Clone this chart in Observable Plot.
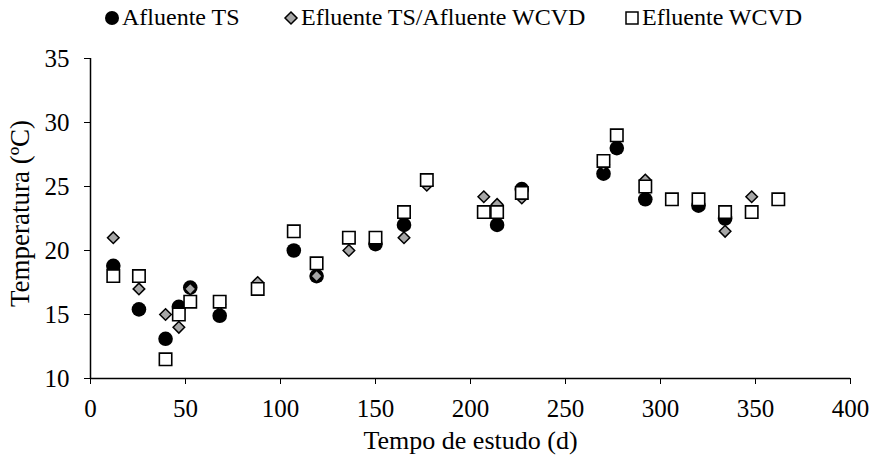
<!DOCTYPE html>
<html>
<head>
<meta charset="utf-8">
<script src="https://cdn.jsdelivr.net/npm/d3@7"></script>
<script src="https://cdn.jsdelivr.net/npm/@observablehq/plot@0.6"></script>
<style>
  html, body { margin: 0; padding: 0; background: #fff; }
  body { width: 877px; height: 461px; overflow: hidden; font-family: "Liberation Serif", serif; }
  #legend { height: 40px; position: relative; font-size: 24px; color: #000; }
  .item { position: absolute; top: 4px; display: flex; align-items: center; white-space: nowrap; }
  .item svg { margin-right: 1px; }
</style>
</head>
<body>
<div id="legend"></div>
<div id="chart"></div>
<script>
// ---- data ----
const seriesNames = ["Afluente TS", "Efluente TS/Afluente WCVD", "Efluente WCVD"];

const afluenteTS_days = [12, 25.5, 39.5, 46.5, 52.5, 68, 107, 119, 150, 165, 214, 227, 270, 277, 292, 320, 334];
const afluenteTS_temp = [18.8, 15.4, 13.1, 15.6, 17.1, 14.9, 20.0, 18.0, 20.5, 22.0, 22.0, 24.8, 26.0, 28.0, 24.0, 23.5, 22.5];

const efluenteTS_days = [12, 25.5, 39.5, 46.5, 52.5, 68, 88, 119, 136, 165, 177, 207, 214, 227, 270, 292, 334, 348];
const efluenteTS_temp = [21.0, 17.0, 15.0, 14.0, 17.0, 15.8, 17.5, 18.0, 20.0, 21.0, 25.1, 24.2, 23.6, 24.1, 26.7, 25.5, 21.5, 24.2];

const efluenteWCVD_days = [12, 25.5, 39.5, 46.5, 52.5, 68, 88, 107, 119, 136, 150, 165, 177, 207, 214, 227, 270, 277, 292, 306, 320, 334, 348, 362];
const efluenteWCVD_temp = [18.0, 18.0, 11.5, 15.0, 16.0, 16.0, 17.0, 21.5, 19.0, 21.0, 21.0, 23.0, 25.5, 23.0, 23.0, 24.5, 27.0, 29.0, 25.0, 24.0, 24.0, 23.0, 23.0, 24.0];

const xTicks = [0, 50, 100, 150, 200, 250, 300, 350, 400];
const yTicks = [10, 15, 20, 25, 30, 35];
const xTitle = "Tempo de estudo (d)";
const yTitle = "Temperatura (ºC)";

// ---- build tables ----
const toRows = (days, temps) => days.map((d, i) => ({day: d, temp: temps[i]}));
const s1 = toRows(afluenteTS_days, afluenteTS_temp);
const s2 = toRows(efluenteTS_days, efluenteTS_temp);
const s3 = toRows(efluenteWCVD_days, efluenteWCVD_temp);

const grey = "#a6a6a6";

const chart = Plot.plot({
  width: 877,
  height: 421,
  marginLeft: 90,
  marginRight: 27,
  marginTop: 18,
  marginBottom: 83,
  style: {fontFamily: "Liberation Serif", fontSize: "26px", color: "#000", background: "#fff", overflow: "visible"},
  x: {domain: [0, 400]},
  y: {domain: [10, 35]},
  marks: [
    Plot.axisX({ticks: xTicks, tickSize: 6, tickPadding: 15, label: null, fontSize: 25, tickFormat: d => String(d)}),
    Plot.axisY({ticks: yTicks, tickSize: 6, tickPadding: 15, label: null, fontSize: 25, tickFormat: d => String(d)}),
    Plot.ruleY([10], {stroke: "#000", strokeWidth: 1.5}),
    Plot.ruleX([0], {stroke: "#000", strokeWidth: 1.5}),
    Plot.dot(s1, {x: "day", y: "temp", symbol: "circle", r: 7.3, fill: "#000", stroke: "none"}),
    Plot.dot(s2, {x: "day", y: "temp", symbol: "diamond2", r: 5.2, fill: grey, stroke: "#000", strokeWidth: 1.5}),
    Plot.dot(s3, {x: "day", y: "temp", symbol: "square", r: 7, fill: "#fff", stroke: "#000", strokeWidth: 1.6}),
    Plot.text([xTitle], {frameAnchor: "bottom", lineAnchor: "middle", textAnchor: "middle", dy: 62, fontSize: 26}),
    Plot.text([yTitle], {frameAnchor: "left", lineAnchor: "middle", textAnchor: "middle", rotate: -90, dx: -70, dy: -5, fontSize: 27})
  ]
});
document.getElementById("chart").appendChild(chart);

// ---- legend ----
const legend = document.getElementById("legend");
const legendItems = [
  {name: seriesNames[0], left: 103, svg: '<svg width="18" height="18"><circle cx="9" cy="9" r="7" fill="#000"/></svg>'},
  {name: seriesNames[1], left: 282, svg: '<svg width="18" height="18"><path d="M9 3 L15 9 L9 15 L3 9 Z" fill="' + grey + '" stroke="#000" stroke-width="1.5"/></svg>'},
  {name: seriesNames[2], left: 623, svg: '<svg width="18" height="18"><rect x="3" y="3" width="12" height="12" fill="#fff" stroke="#000" stroke-width="1.5"/></svg>'}
];
legendItems.forEach(it => {
  const div = document.createElement("div");
  div.className = "item";
  div.style.left = it.left + "px";
  div.innerHTML = it.svg + "<span>" + it.name + "</span>";
  legend.appendChild(div);
});
</script>
</body>
</html>
